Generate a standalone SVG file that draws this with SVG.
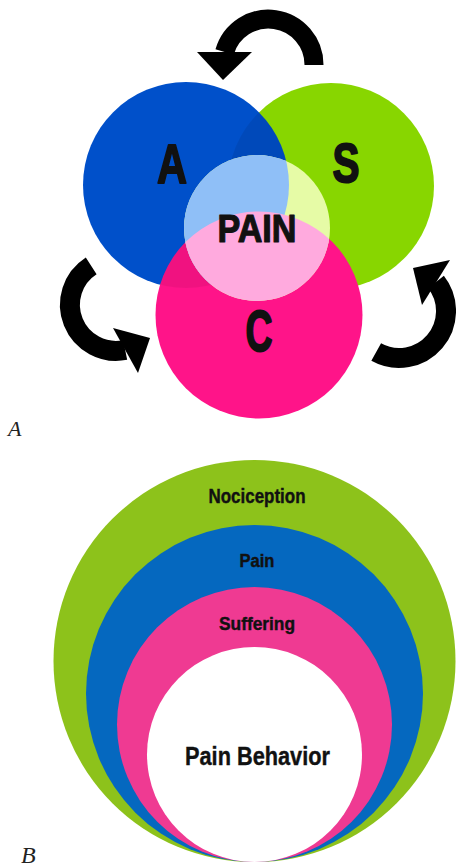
<svg xmlns="http://www.w3.org/2000/svg" width="456" height="868" viewBox="0 0 456 868">
<style>
.bc{font-family:"Liberation Sans",Arial,sans-serif;font-weight:bold;fill:#111;text-anchor:middle}
.heavy{stroke:#111;stroke-width:2;stroke-linejoin:round}
.mid{stroke:#111;stroke-width:0.4}
.lab{font-family:"Liberation Serif",serif;font-style:italic;fill:#222}
.arc{fill:none;stroke:#000;stroke-width:20}
</style>
<defs>
<clipPath id="cpBlue"><circle cx="186" cy="185" r="103"/></clipPath>
<clipPath id="cpPink"><circle cx="259" cy="315" r="103.5"/></clipPath>
<clipPath id="cpCenter"><circle cx="257" cy="228" r="73"/></clipPath>
</defs>
<rect width="456" height="868" fill="#fff"/>
<g id="nodeS"><circle cx="331" cy="186" r="103" fill="#88D600"/></g>
<g id="nodeA"><circle cx="186" cy="185" r="103" fill="#0050CA"/>
<circle cx="331" cy="186" r="103" fill="#000" opacity="0.08" clip-path="url(#cpBlue)"/></g>
<g id="nodeC"><circle cx="259" cy="315" r="103.5" fill="#FF1489"/>
<circle cx="186" cy="185" r="103" fill="#000" opacity="0.06" clip-path="url(#cpPink)"/></g>
<g id="nodePain">
<g clip-path="url(#cpCenter)">
<rect x="150" y="150" width="220" height="160" fill="#E6FBA6"/>
<circle cx="186" cy="185" r="103" fill="#8FBFF7"/>
<circle cx="259" cy="315" r="103.5" fill="#FFAADE"/>
</g>
</g>
<text class="bc heavy" x="172" y="183" font-size="56" textLength="30" lengthAdjust="spacingAndGlyphs">A</text>
<text class="bc heavy" x="346" y="182" font-size="56" textLength="27" lengthAdjust="spacingAndGlyphs">S</text>
<text class="bc heavy" style="stroke-width:1.2" x="257" y="241.5" font-size="39.5" textLength="79" lengthAdjust="spacingAndGlyphs">PAIN</text>
<text class="bc heavy" x="259" y="351" font-size="57" textLength="27" lengthAdjust="spacingAndGlyphs">C</text>
<g id="connectors">
<path class="arc" style="stroke-width:19" d="M314 65 A45.6 45.6 0 0 0 224.6 52"/>
<polygon points="197,52 252,52 223,80"/>
<path class="arc" d="M91.2 265.8 A46.2 46.2 0 0 0 125.2 350"/>
<polygon points="113,328 138,373 150,338"/>
<path class="arc" d="M376.2 352.1 A47 47 0 0 0 436 282"/>
<polygon points="450,260 422,305 413,268"/>
</g>
<text class="lab" x="8" y="436" font-size="22">A</text>
<g id="nodeNociception"><circle cx="254.5" cy="661" r="201" fill="#8DC21B"/></g>
<g id="nodePainB"><circle cx="254.5" cy="693.5" r="168.5" fill="#0568BF"/></g>
<g id="nodeSuffering"><circle cx="254.5" cy="724.5" r="137.5" fill="#EF3A92"/></g>
<g id="nodeBehavior"><circle cx="254.5" cy="754.5" r="107.5" fill="#fff"/></g>
<text class="bc mid" x="257" y="503" font-size="19.5" textLength="97" lengthAdjust="spacingAndGlyphs">Nociception</text>
<text class="bc mid" x="257" y="567" font-size="18" textLength="35" lengthAdjust="spacingAndGlyphs">Pain</text>
<text class="bc mid" x="257" y="630" font-size="18" textLength="76" lengthAdjust="spacingAndGlyphs">Suffering</text>
<text class="bc mid" x="257.5" y="765" font-size="26" textLength="145" lengthAdjust="spacingAndGlyphs">Pain Behavior</text>
<text class="lab" x="21" y="863" font-size="24">B</text>
</svg>
